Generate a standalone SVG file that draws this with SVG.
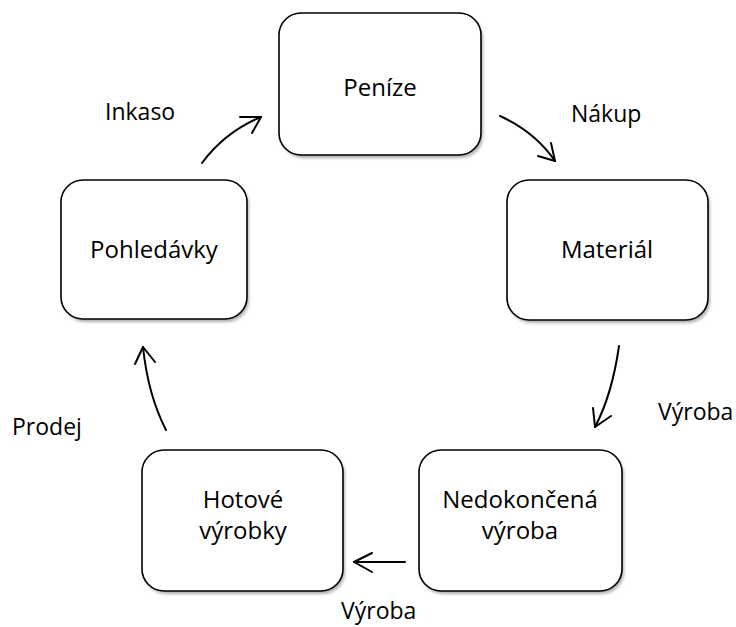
<svg xmlns="http://www.w3.org/2000/svg" width="736" height="627" viewBox="0 0 736 627">
<style>
.box{fill:#fff;stroke:#000;stroke-width:1.6}
.sh{fill:#b0b0b0;filter:url(#blur)}
.t{font-family:"Open Sans","Liberation Sans",sans-serif;font-size:24px;fill:#000;text-anchor:middle}
.l{font-family:"Open Sans","Liberation Sans",sans-serif;font-size:23px;fill:#000}
.c{fill:none;stroke:#000;stroke-width:2;stroke-linecap:round;stroke-linejoin:round}
</style>
<defs>
<filter id="blur" x="-10%" y="-10%" width="120%" height="120%"><feGaussianBlur stdDeviation="1.5"/></filter>
</defs>
<rect width="736" height="627" fill="#fff"/>
<g id="penize">
<rect class="sh" x="281" y="16" width="202" height="142" rx="22"/>
<rect class="box" x="279" y="13" width="202" height="142" rx="22"/>
<text class="t" x="380" y="96">Peníze</text>
</g>
<g id="material">
<rect class="sh" x="509" y="183" width="201" height="140" rx="22"/>
<rect class="box" x="507" y="180" width="201" height="140" rx="22"/>
<text class="t" x="607" y="258">Materiál</text>
</g>
<g id="pohledavky">
<rect class="sh" x="63" y="183" width="186" height="139" rx="22"/>
<rect class="box" x="61" y="180" width="186" height="139" rx="22"/>
<text class="t" x="154" y="258">Pohledávky</text>
</g>
<g id="nedokoncena">
<rect class="sh" x="421" y="453" width="203" height="141" rx="22"/>
<rect class="box" x="419" y="450" width="203" height="141" rx="22"/>
<text class="t" x="520" y="508">Nedokončená</text>
<text class="t" x="520" y="539">výroba</text>
</g>
<g id="hotove">
<rect class="sh" x="144" y="453" width="201" height="141" rx="22"/>
<rect class="box" x="142" y="450" width="201" height="141" rx="22"/>
<text class="t" x="243" y="508">Hotové</text>
<text class="t" x="243" y="539">výrobky</text>
</g>
<g id="connectors">
<path class="c" d="M202,163 Q225,132 261,117"/>
<path class="c" d="M240,117 L261,117 L252,133"/>
<path class="c" d="M500,116 Q535,132 555,161"/>
<path class="c" d="M551,143 L555,161 L538,156"/>
<path class="c" d="M619,346 Q612,395 595,427"/>
<path class="c" d="M593,408 L595,427 L611,416"/>
<path class="c" d="M405,562 L354,562"/>
<path class="c" d="M372,553 L354,562 L372,572"/>
<path class="c" d="M166,430 Q148,395 143,347"/>
<path class="c" d="M135,364 L143,347 L155,362"/>
</g>
<g id="labels">
<text class="l" x="105" y="120">Inkaso</text>
<text class="l" x="571" y="122">Nákup</text>
<text class="l" x="658" y="420">Výroba</text>
<text class="l" x="12" y="435">Prodej</text>
<text class="l" x="341" y="619">Výroba</text>
</g>
</svg>
